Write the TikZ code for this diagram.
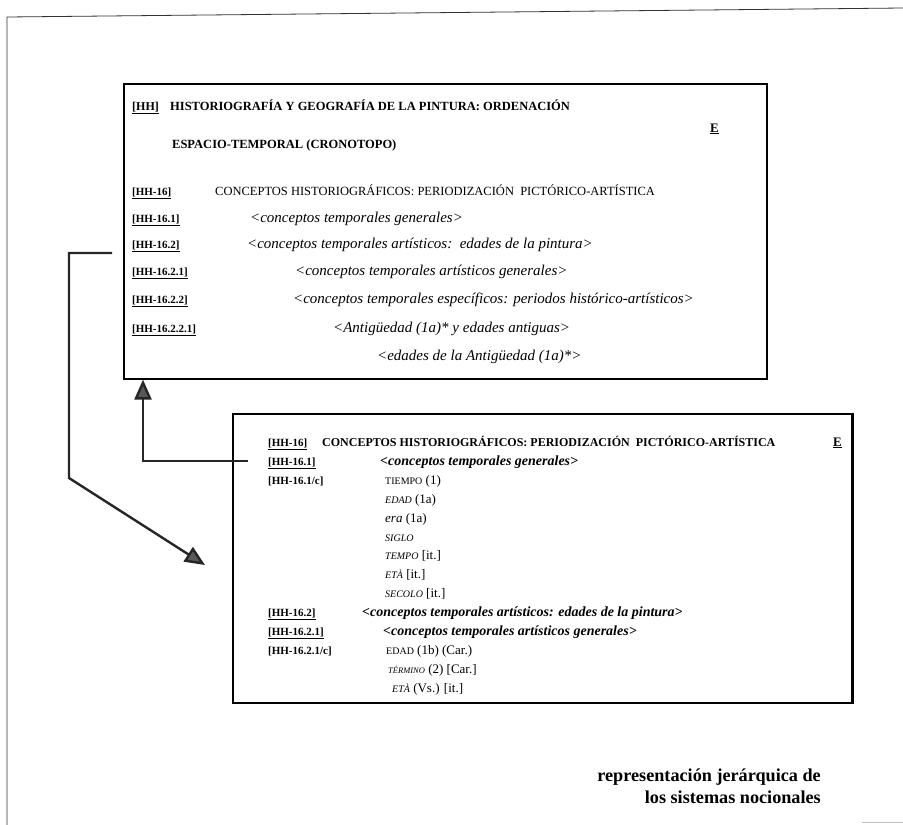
\documentclass[tikz,border=0pt]{standalone}
\usepackage{fontspec}
\setmainfont{Liberation Serif}
\usetikzlibrary{arrows.meta}
\newcommand\scx[1]{{\fontsize{10}{10}\selectfont #1}}
\newcommand\scy[1]{{\fontsize{8.5}{8.5}\selectfont #1}}
\tikzset{
  frame/.style={draw=black!80, line width=0.8pt},
  box/.style={draw=black, line width=1.2pt, inner sep=0pt},
  txt/.style={anchor=base west, inner sep=0pt},
  lab/.style={txt, font=\bfseries\fontsize{11}{11}\selectfont},
  capb/.style={txt, font=\bfseries\fontsize{12.5}{12.5}\selectfont},
  capr/.style={txt, font=\fontsize{12.5}{12.5}\selectfont},
  capc/.style={txt, font=\bfseries\fontsize{12}{12}\selectfont},
  itl/.style={txt, font=\itshape\fontsize{15}{15}\selectfont},
  itb/.style={txt, font=\bfseries\itshape\fontsize{14}{14}\selectfont},
  ent/.style={txt, font=\fontsize{13}{13}\selectfont},
  emark/.style={txt, font=\bfseries\fontsize{13}{13}\selectfont},
  capt/.style={anchor=base east, inner sep=0pt, font=\bfseries\fontsize{18.2}{18.2}\selectfont},
  conn/.style={draw=black!85, line width=2.4pt},
  tipa/.style={-{Triangle[length=20pt,width=17pt,fill=black!65]}}
}
\begin{document}
\begin{tikzpicture}[x=1pt,y=-1pt]
\useasboundingbox (0,0) rectangle (903,825);
\fill[white] (0,0) rectangle (903,825);
% page frame
\draw[frame] (7,825) -- (7,17) -- (903,8);
\draw[black!25, line width=1pt] (862,822) -- (903,822);

% boxes
\node[box, minimum width=643pt, minimum height=295pt] (box1) at (445.5,231.5) {};
\node[box, minimum width=619pt, minimum height=289pt] (box2) at (542.5,558.5) {};
\draw[black, line width=2.2pt] (box2.north east) -- (box2.south east);

% box 1 content
\node[txt, font=\bfseries\fontsize{12}{12}\selectfont] (h0) at (132,110) {\underline{[HH]}};
\node[capb] (h0t) at (170,110) {HISTORIOGRAFÍA Y GEOGRAFÍA DE LA PINTURA: ORDENACIÓN};
\node[capb] (h0u) at (172,148) {ESPACIO-TEMPORAL (CRONOTOPO)};
\node[emark] (e1) at (710,132) {\underline{E}};
\node[lab] (l16) at (132,195) {\underline{[HH-16]}};
\node[capr] (t16) at (215,195) {CONCEPTOS HISTORIOGRÁFICOS: PERIODIZACIÓN\ \ PICTÓRICO-ARTÍSTICA};
\node[lab] (l161) at (132,222) {\underline{[HH-16.1]}};
\node[itl] (t161) at (250,222) {<conceptos temporales generales>};
\node[lab] (l162) at (132,248) {\underline{[HH-16.2]}};
\node[itl] (t162) at (247,248) {<conceptos temporales artísticos:\ \ edades de la pintura>};
\node[lab] (l1621) at (132,275) {\underline{[HH-16.2.1]}};
\node[itl] (t1621) at (295,275) {<conceptos temporales artísticos generales>};
\node[lab] (l1622) at (132,303) {\underline{[HH-16.2.2]}};
\node[itl] (t1622) at (293,303) {<conceptos temporales específicos: periodos histórico-artísticos>};
\node[lab] (l16221) at (132,332) {\underline{[HH-16.2.2.1]}};
\node[itl] (t16221) at (333,332) {<Antigüedad (1a)* y edades antiguas>};
\node[itl] (t16222) at (377,360) {<edades de la Antigüedad (1a)*>};

% box 2 content
\node[lab] (m16) at (268,446) {\underline{[HH-16]}};
\node[capc] (n16) at (322,446) {CONCEPTOS HISTORIOGRÁFICOS: PERIODIZACIÓN\ \ PICTÓRICO-ARTÍSTICA};
\node[emark] (e2) at (833,446) {\underline{E}};
\node[lab] (m161) at (268,465) {\underline{[HH-16.1]}};
\node[itb] (n161) at (380,465) {<conceptos temporales generales>};
\node[lab] (m161c) at (268,484) {[HH-16.1/c]};
\node[ent] (c1) at (385,484) {\scx{TIEMPO} (1)};
\node[ent] (c2) at (385,503) {\textit{\scx{EDAD}} (1a)};
\node[ent] (c3) at (385,522) {\textit{era} (1a)};
\node[ent] (c4) at (385,541) {\textit{\scx{SIGLO}}};
\node[ent] (c5) at (385,559) {\textit{\scx{TEMPO}} [it.]};
\node[ent] (c6) at (385,578) {\textit{\scx{ETÀ}} [it.]};
\node[ent] (c7) at (385,597) {\textit{\scx{SECOLO}} [it.]};
\node[lab] (m162) at (268,616) {\underline{[HH-16.2]}};
\node[itb] (n162) at (362,616) {<conceptos temporales artísticos: edades de la pintura>};
\node[lab] (m1621) at (268,635) {\underline{[HH-16.2.1]}};
\node[itb] (n1621) at (383,635) {<conceptos temporales artísticos generales>};
\node[lab] (m1621c) at (268,654) {[HH-16.2.1/c]};
\node[ent] (d1) at (386,654) {\scx{EDAD} (1b) (Car.)};
\node[ent] (d2) at (388,673) {\textit{\scy{TÉRMINO}} (2) [Car.]};
\node[ent] (d3) at (392,692) {\textit{\scx{ETÀ}} (Vs.) [it.]};

% connectors
\coordinate (a0) at (248,461);
\draw[conn, tipa] (a0) -| (143,0 |- box1.south);
\coordinate (b0) at (112,253);
\coordinate (b1) at (69,253);
\coordinate (b2) at (69,478);
\coordinate (b3) at (205,565);
\draw[conn, tipa, line join=miter] (b0) -- (b1) -- (b2) -- (b3);

% caption
\node[capt] (cap1) at (821,781) {representación jerárquica de};
\node[capt] (cap2) at (821,803) {los sistemas nocionales};
\end{tikzpicture}
\end{document}
